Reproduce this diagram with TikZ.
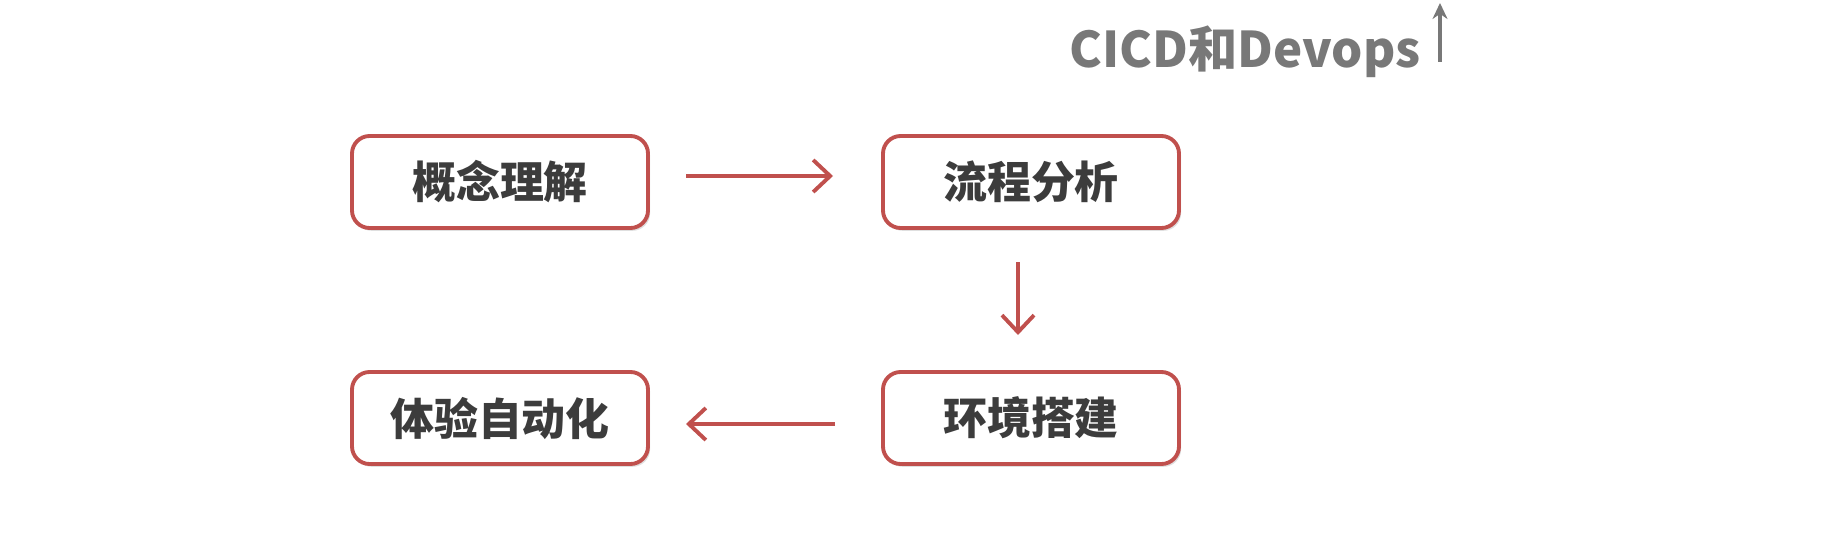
\documentclass[tikz,border=0pt]{standalone}
\usepackage{fontspec}
\setmainfont{Noto Sans CJK SC}
\usetikzlibrary{arrows.meta,shadows}
\definecolor{boxred}{RGB}{192,80,77}
\definecolor{txtgray}{RGB}{60,60,60}
\definecolor{ttlgray}{RGB}{120,120,120}
\tikzset{
  stepbox/.style={draw=boxred,line width=1.1pt,rounded corners=5pt,fill=white,
    minimum width=2.96cm,minimum height=0.92cm,inner sep=0pt,
    font=\fontsize{12.5}{15}\selectfont\bfseries,text=txtgray,
    drop shadow={opacity=0.25,shadow xshift=0.6pt,shadow yshift=-0.8pt}},
  flow/.style={boxred,line width=1.1pt,-{Straight Barb[length=1.7mm,width=3.2mm]}}
}
\begin{document}
\begin{tikzpicture}
			\useasboundingbox (0,0) rectangle (18.41,-5.57);
			% title
			\node[font=\fontsize{14}{17}\selectfont\bfseries,text=ttlgray] (title) at (12.45,-0.52) {CICD和Devops};
			\coordinate (upB) at (14.40,-0.62);
			\coordinate (upT) at (14.40,-0.03);
			\draw[ttlgray,line width=0.9pt,-{Stealth[length=1.6mm,width=1.5mm]}] (upB) -- (upT);
			% process boxes
			\node[stepbox] (concept) at (5.00,-1.82) {概念理解};
			\node[stepbox] (analyze) at (10.31,-1.82) {流程分析};
			\node[stepbox] (env) at (10.31,-4.18) {环境搭建};
			\node[stepbox] (auto) at (5.00,-4.18) {体验自动化};
			% connectors
			\coordinate (a1) at (6.86,-1.76);
			\coordinate (a2) at (8.33,-1.76);
			\coordinate (b1) at (10.18,-2.62);
			\coordinate (b2) at (10.18,-3.35);
			\coordinate (c1) at (8.35,-4.24);
			\coordinate (c2) at (6.86,-4.24);
			\draw[flow] (a1) -- (a2);
			\draw[flow] (b1) -- (b2);
			\draw[flow] (c1) -- (c2);
		\end{tikzpicture}
\end{document}
